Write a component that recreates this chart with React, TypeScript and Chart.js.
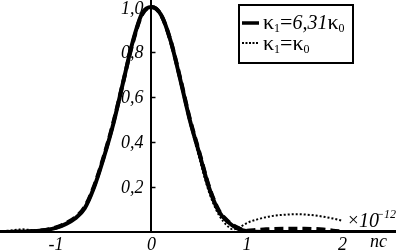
import React, { useEffect, useRef } from "react";
import { Chart, registerables } from "chart.js";

Chart.register(...registerables);

const xSolid = [-1.6, -1.5, -1.4, -1.3, -1.2, -1.1, -1.0, -0.9, -0.8, -0.7, -0.6, -0.5, -0.4, -0.3, -0.2, -0.1, 0, 0.1, 0.2, 0.3, 0.4, 0.5, 0.6, 0.7, 0.8, 0.9, 1.0, 1.2, 1.6, 2.0, 2.4, 2.6];
const ySolid = [0, 0, 0.001, 0.002, 0.004, 0.009, 0.018, 0.035, 0.06, 0.105, 0.2, 0.33, 0.48, 0.66, 0.84, 0.97, 1.0, 0.965, 0.85, 0.68, 0.5, 0.35, 0.2, 0.095, 0.045, 0.016, 0.003, 0, 0, 0, 0, 0];

const xDashed = [-1.6, -1.4, -1.2, -1.0, -0.9, -0.8, -0.7, -0.6, -0.5, -0.4, -0.3, -0.2, -0.1, 0, 0.1, 0.2, 0.3, 0.4, 0.5, 0.6, 0.7, 0.8, 0.9, 1.0, 1.1, 1.2, 1.4, 1.6, 1.8, 1.9, 2.0];
const yDashed = [0, 0.001, 0.005, 0.02, 0.038, 0.064, 0.11, 0.205, 0.335, 0.485, 0.66, 0.835, 0.965, 1.0, 0.965, 0.85, 0.685, 0.505, 0.355, 0.205, 0.1, 0.048, 0.02, 0.006, 0.009, 0.012, 0.014, 0.014, 0.011, 0.006, 0.002];

const xDotted = [-1.6, -1.5, -1.4, -1.35, -1.3, -1.2, -1.1, -1.0, -0.9, -0.8, -0.7, -0.6, -0.5, -0.4, -0.3, -0.2, -0.1, 0, 0.1, 0.2, 0.3, 0.4, 0.5, 0.6, 0.7, 0.8, 0.85, 0.9, 1.0, 1.1, 1.2, 1.3, 1.4, 1.5, 1.6, 1.7, 1.8, 1.9, 2.0];
const yDotted = [0.002, 0.006, 0.01, 0.012, 0.01, 0.007, 0.009, 0.018, 0.035, 0.06, 0.105, 0.2, 0.33, 0.48, 0.66, 0.84, 0.97, 1.0, 0.96, 0.84, 0.67, 0.49, 0.33, 0.18, 0.08, 0.025, 0.012, 0.016, 0.04, 0.055, 0.066, 0.073, 0.077, 0.079, 0.078, 0.074, 0.068, 0.06, 0.05];

const xTicks = [-1, 0, 1, 2];
const yTicks = [0.2, 0.4, 0.6, 0.8, 1.0];

const SERIF = "'Liberation Serif', 'Times New Roman', serif";

const toPts = (xs: number[], ys: number[]) => xs.map((x, i) => ({ x, y: ys[i] }));
const fmtY = (v: number) => v.toFixed(1).replace(".", ",");

const extrasPlugin = {
  id: "extras",
  afterDraw(chart: any) {
    const ctx = chart.ctx as CanvasRenderingContext2D;
    const xs = chart.scales.x;
    const ys = chart.scales.y;
    const ax = xs.getPixelForValue(0);
    ctx.save();
    ctx.strokeStyle = "#000";
    ctx.fillStyle = "#000";
    ctx.lineWidth = 1.5;
    ctx.font = `italic 18px ${SERIF}`;
    ctx.textAlign = "right";
    ctx.textBaseline = "middle";
    ys.ticks.forEach((t: any) => {
      const py = ys.getPixelForValue(t.value);
      const pr = Math.round(py) + 0.5;
      ctx.beginPath();
      ctx.moveTo(ax, pr);
      ctx.lineTo(ax + 4, pr);
      ctx.stroke();
      ctx.fillText(fmtY(t.value), ax - 8, Math.max(py + 1, 9));
    });

    ctx.textBaseline = "alphabetic";
    ctx.textAlign = "left";
    ctx.font = `italic 18px ${SERIF}`;
    ctx.fillText("nc", 370, 247);

    ctx.font = `19px ${SERIF}`;
    ctx.fillText("×", 348, 226);
    ctx.font = `italic 20px ${SERIF}`;
    ctx.fillText("10", 359, 227);
    ctx.font = `italic 12px ${SERIF}`;
    ctx.fillText("−12", 376, 218);

    ctx.lineWidth = 2;
    ctx.strokeRect(239, 5, 114, 58);
    ctx.lineWidth = 3.5;
    ctx.beginPath();
    ctx.moveTo(242, 23);
    ctx.lineTo(259, 23);
    ctx.stroke();
    ctx.lineWidth = 2;
    ctx.setLineDash([2, 1.5]);
    ctx.beginPath();
    ctx.moveTo(242, 43);
    ctx.lineTo(259, 43);
    ctx.stroke();
    ctx.setLineDash([]);

    const drawRich = (parts: { t: string; f: string; dy?: number }[], x: number, y: number) => {
      let cx = x;
      parts.forEach((p) => {
        ctx.font = p.f;
        ctx.fillText(p.t, cx, y + (p.dy || 0));
        cx += ctx.measureText(p.t).width;
      });
    };
    const up = `22px ${SERIF}`;
    const it = `italic 20px ${SERIF}`;
    const sub = `12px ${SERIF}`;
    drawRich(
      [
        { t: "κ", f: up },
        { t: "1", f: sub, dy: 3 },
        { t: "=", f: up },
        { t: "6,31", f: it },
        { t: "κ", f: up },
        { t: "0", f: sub, dy: 3 },
      ],
      263,
      29
    );
    drawRich(
      [
        { t: "κ", f: up },
        { t: "1", f: sub, dy: 3 },
        { t: "=", f: up },
        { t: "κ", f: up },
        { t: "0", f: sub, dy: 3 },
      ],
      263,
      50
    );
    ctx.restore();
  },
};

export default function App() {
  const ref = useRef<HTMLCanvasElement | null>(null);
  useEffect(() => {
    document.body.style.margin = "0";
    const canvas = ref.current;
    if (!canvas) return;
    const chart = new Chart(canvas, {
      type: "line",
      data: {
        datasets: [
          {
            label: "κ1=6,31κ0",
            data: toPts(xSolid, ySolid),
            borderColor: "#000",
            borderWidth: 4,
            pointRadius: 0,
            cubicInterpolationMode: "monotone",
            fill: false,
          },
          {
            label: "dashed",
            data: toPts(xDashed, yDashed),
            borderColor: "#000",
            borderWidth: 4,
            borderDash: [9, 5],
            pointRadius: 0,
            cubicInterpolationMode: "monotone",
            fill: false,
          },
          {
            label: "κ1=κ0",
            data: toPts(xDotted, yDotted),
            borderColor: "#000",
            borderWidth: 2,
            borderDash: [2, 2],
            pointRadius: 0,
            cubicInterpolationMode: "monotone",
            fill: false,
          },
        ],
      },
      options: {
        responsive: false,
        animation: false,
        parsing: false as any,
        layout: { padding: 0 },
        plugins: { legend: { display: false }, tooltip: { enabled: false } },
        scales: {
          x: {
            type: "linear",
            position: "bottom",
            min: -1.586,
            max: 2.56,
            afterBuildTicks: (s: any) => {
              s.ticks = xTicks.map((v) => ({ value: v }));
            },
            afterFit: (s: any) => {
              s.height = 19;
              s.paddingLeft = 0;
              s.paddingRight = 0;
            },
            grid: { display: false, drawTicks: false },
            border: { display: true, color: "#000", width: 2 },
            ticks: {
              color: "#000",
              padding: 2,
              maxRotation: 0,
              font: { family: SERIF, size: 18, style: "italic" },
              callback: (v: any) => String(v),
            },
          },
          y: {
            type: "linear",
            position: { x: 0 } as any,
            min: 0,
            max: 1.031,
            afterBuildTicks: (s: any) => {
              s.ticks = yTicks.map((v) => ({ value: v }));
            },
            afterFit: (s: any) => {
              s.paddingTop = 0;
              s.paddingBottom = 0;
            },
            grid: { display: false, drawTicks: false },
            border: { display: true, color: "#000", width: 2 },
            ticks: {
              display: false,
              color: "#000",
              font: { family: SERIF, size: 18, style: "italic" },
              callback: (v: any) => fmtY(Number(v)),
            },
          },
        },
      },
      plugins: [extrasPlugin],
    });
    return () => chart.destroy();
  }, []);
  return (
    <div style={{ position: "fixed", left: 0, top: 0, width: 396, height: 251, background: "#fff" }}>
      <canvas ref={ref} width={396} height={251} style={{ display: "block" }} />
    </div>
  );
}
